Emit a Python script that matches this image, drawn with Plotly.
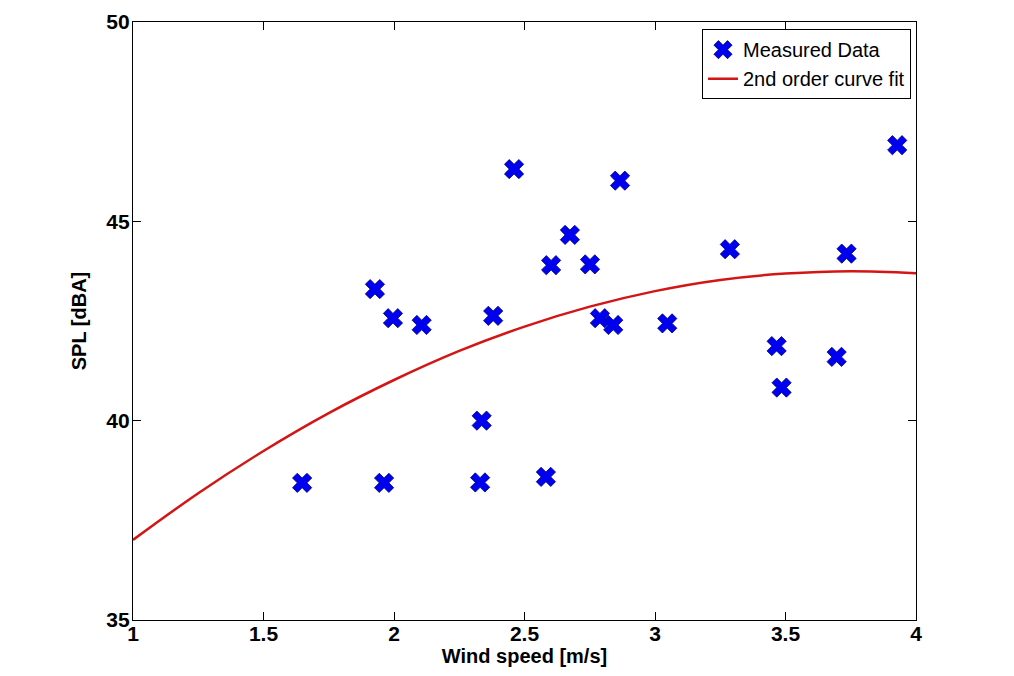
import plotly.graph_objects as go

wind_speed = [1.648, 1.927, 1.962, 1.996, 2.106, 2.330, 2.336, 2.380, 2.460, 2.582,
              2.602, 2.674, 2.751, 2.789, 2.840, 2.866, 3.047, 3.287, 3.466, 3.485,
              3.696, 3.734, 3.928]
spl = [38.44, 43.30, 38.44, 42.57, 42.40, 38.45, 40.00, 42.63, 46.31, 38.59,
       43.90, 44.66, 43.92, 42.57, 42.40, 46.02, 42.44, 44.30, 41.87, 40.83,
       41.60, 44.19, 46.91]

# 2nd order curve fit
fit_x = [1.0, 1.25, 1.5, 1.75, 2.0, 2.25, 2.5, 2.75, 3.0, 3.25, 3.5, 3.75, 4.0]
fit_y = [37.01, 38.18, 39.24, 40.19, 41.02, 41.75, 42.36, 42.86, 43.25, 43.53, 43.69, 43.75, 43.70]

x_ticks = [1, 1.5, 2, 2.5, 3, 3.5, 4]
y_ticks = [35, 40, 45, 50]

FONT = "Liberation Sans, Arial, sans-serif"

fig = go.Figure()
fig.add_trace(go.Scatter(
    x=wind_speed, y=spl, mode="markers", name="Measured Data",
    marker=dict(symbol="x", size=17, color="#0000f0",
                line=dict(width=0.8, color="#00007a")),
))
fig.add_trace(go.Scatter(
    x=fit_x, y=fit_y, mode="lines", name="2nd order curve fit",
    line=dict(color="#d41515", width=2.5, shape="spline"),
))

axis_common = dict(
    automargin=False,
    showgrid=False, zeroline=False, showline=True, linecolor="black", linewidth=1.2,
    mirror="ticks", ticks="inside", ticklen=8, tickwidth=1, tickcolor="black",
    tickfont=dict(family=FONT, size=21, color="black", weight="bold"),
)

fig.update_xaxes(range=[1, 4], tickvals=x_ticks, ticktext=[str(v) for v in x_ticks],
                 ticklabelstandoff=-5,
                 title=dict(text="<b>Wind speed [m/s]</b>", standoff=4,
                            font=dict(family=FONT, size=20, color="black")),
                 **axis_common)
fig.update_yaxes(range=[35, 50], tickvals=y_ticks, ticktext=[str(v) for v in y_ticks],
                 ticklabelstandoff=-2,
                 title=dict(text="<b>SPL [dBA]</b>", standoff=14,
                            font=dict(family=FONT, size=20, color="black")),
                 **axis_common)

fig.update_layout(
    width=1014, height=676,
    margin=dict(l=125, r=106, t=14, b=64),
    paper_bgcolor="white", plot_bgcolor="white",
    font=dict(family=FONT, color="black"),
    legend=dict(x=0.9936, y=0.988, xanchor="right", yanchor="top",
                bgcolor="white", bordercolor="black", borderwidth=1,
                font=dict(family=FONT, size=20, color="black"),
                tracegroupgap=0),
    showlegend=True,
)

fig.write_html("out.html")
